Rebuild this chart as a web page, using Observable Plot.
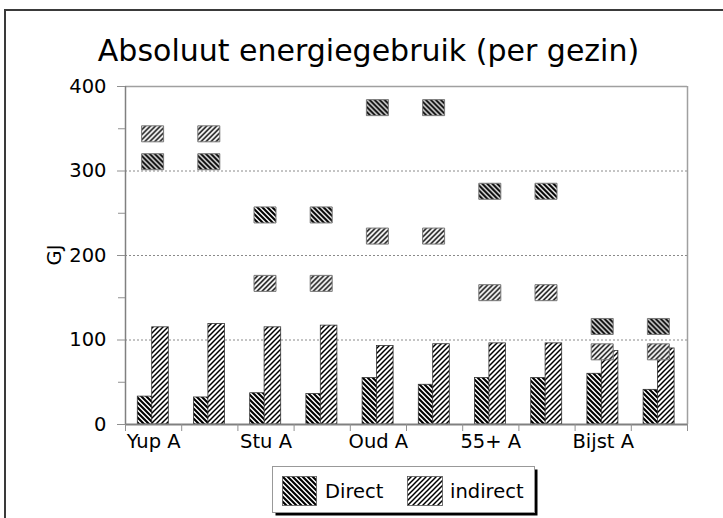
<!DOCTYPE html>
<html><head><meta charset="utf-8">
<script src="https://cdn.jsdelivr.net/npm/d3@7"></script>
<script src="https://cdn.jsdelivr.net/npm/@observablehq/plot@0.6"></script>
<style>
html,body{margin:0;padding:0;background:#fff;}
#wrap{position:relative;width:723px;height:518px;overflow:hidden;font-family:"DejaVu Sans",sans-serif;background:#fff;}
#title{position:absolute;left:0;width:737px;top:36px;text-align:center;font-size:30px;line-height:30px;color:#000;white-space:nowrap;}
#frame{position:absolute;left:4px;top:9px;width:760px;height:560px;border:2px solid #3a3a3a;box-sizing:border-box;pointer-events:none;}
#chart{position:absolute;left:0;top:0;}
#legend{position:absolute;left:272px;top:466px;}
#ylab{position:absolute;left:55px;top:255px;font-size:19.5px;line-height:20px;transform:translate(-50%,-50%) rotate(-90deg);white-space:nowrap;color:#000;}
</style></head><body>
<div id="wrap"><div id="chart"></div><div id="title">Absoluut energiegebruik (per gezin)</div><div id="ylab">GJ</div><div id="legend"></div><div id="frame"></div></div>
<script>
// ---- data ----
const categories = ["Yup A","Yup B","Stu A","Stu B","Oud A","Oud B","55+ A","55+ B","Bijst A","Bijst B"];
const xTickLabels = ["Yup A","Stu A","Oud A","55+ A","Bijst A"];
const directBar = [33, 32, 37, 36, 55, 47, 55, 55, 60, 41];
const indirectBar = [115, 119, 115, 117, 93, 95, 96, 96, 87, 90];
const directMarker = [311, 311, 248, 248, 375, 375, 276, 276, 116, 116];
const indirectMarker = [344, 344, 167, 167, 223, 223, 156, 156, 86, 86];
const yTicks = [0, 100, 200, 300, 400];
const yMinorTicks = [50, 150, 250, 350];
const seriesNames = ["Direct", "indirect"];

const rows = categories.map((c, i) => ({
  cat: c, i,
  direct: directBar[i], indirect: indirectBar[i],
  dMark: directMarker[i], iMark: indirectMarker[i]
}));

function addPatterns(defs, prefix) {
  const s = 5;
  const pd = defs.append("pattern").attr("id", prefix + "D")
    .attr("patternUnits", "userSpaceOnUse").attr("width", s).attr("height", s);
  pd.append("rect").attr("width", s).attr("height", s).attr("fill", "#fff");
  pd.append("path").attr("d", `M-1,-1L${s+1},${s+1}M-1,${s-1}L1,${s+1}M${s-1},-1L${s+1},1`)
    .attr("stroke", "#000").attr("stroke-width", 2.1).attr("fill", "none");
  const pi = defs.append("pattern").attr("id", prefix + "I")
    .attr("patternUnits", "userSpaceOnUse").attr("width", s).attr("height", s);
  pi.append("rect").attr("width", s).attr("height", s).attr("fill", "#fff");
  pi.append("path").attr("d", `M-1,${s+1}L${s+1},-1M-1,1L1,-1M${s-1},${s+1}L${s+1},${s-1}`)
    .attr("stroke", "#000").attr("stroke-width", 1.5).attr("fill", "none");
}

const defsMark = () => {
  const g = d3.create("svg:g");
  addPatterns(g.append("defs"), "pat");
  return g.node();
};

const boxSymbol = { draw(ctx) { ctx.rect(-11, -8, 22, 16); } };

const n = categories.length;
const labelPos = xTickLabels.map(l => categories.indexOf(l) + 0.5);

const chart = Plot.plot({
  width: 723,
  height: 518,
  marginTop: 86,
  marginBottom: 94,
  marginLeft: 125,
  marginRight: 36,
  style: { fontFamily: "DejaVu Sans, sans-serif", fontSize: "19.5px", background: "transparent", color: "#000" },
  x: { domain: [0, n], axis: null },
  y: { domain: [0, 400], axis: null },
  marks: [
    defsMark,
    Plot.ruleY([100, 200, 300], { stroke: "#8a8a8a", strokeDasharray: "2,2", strokeWidth: 1 }),
    Plot.ruleY([400], { stroke: "#a0a0a0", strokeWidth: 1.5 }),
    Plot.ruleX([n], { stroke: "#a0a0a0", strokeWidth: 1.5 }),
    Plot.rectY(rows, { x1: d => d.i, x2: d => d.i + 1, y: "direct", fill: "url(#patD)", stroke: "#333", strokeWidth: 0.8, insetLeft: 12.3, insetRight: 28.5 }),
    Plot.rectY(rows, { x1: d => d.i, x2: d => d.i + 1, y: "indirect", fill: "url(#patI)", stroke: "#333", strokeWidth: 0.8, insetLeft: 26.7, insetRight: 12.9 }),
    Plot.dot(rows, { x: d => d.i + 0.5, y: "dMark", symbol: boxSymbol, fill: "url(#patD)", stroke: "#777", strokeWidth: 1, dx: -1 }),
    Plot.dot(rows, { x: d => d.i + 0.5, y: "iMark", symbol: boxSymbol, fill: "url(#patI)", stroke: "#777", strokeWidth: 1, dx: -1 }),
    Plot.ruleX([0], { stroke: "#808080", strokeWidth: 1.5 }),
    Plot.ruleY([0], { stroke: "#808080", strokeWidth: 2 }),
    Plot.axisY({ ticks: yTicks, tickSize: 8, tickPadding: 11, stroke: "#909090", label: null, fontSize: 19.5 }),
    Plot.axisY({ ticks: yMinorTicks, tickSize: 7, tickFormat: () => "", stroke: "#909090", label: null }),
    Plot.axisX({ ticks: d3.range(0, n + 1), tickSize: 7, tickFormat: () => "", stroke: "#909090", label: null }),
    Plot.axisX({ ticks: labelPos, tickSize: 0, tickPadding: 10, tickFormat: v => categories[Math.floor(v)], label: null, fontSize: 19.5 })
  ]
});
document.getElementById("chart").appendChild(chart);

// ---- legend ----
const lg = d3.select("#legend").append("svg").attr("width", 270).attr("height", 54);
addPatterns(lg.append("defs"), "lg");
lg.append("rect").attr("x", 3.5).attr("y", 3.5).attr("width", 262).attr("height", 46).attr("fill", "#000");
lg.append("rect").attr("x", 0.5).attr("y", 0.5).attr("width", 262).attr("height", 46).attr("fill", "#fff").attr("stroke", "#999");
const items = [
  { name: seriesNames[0], fill: "url(#lgD)", sx: 10, tx: 53, sw: 34 },
  { name: seriesNames[1], fill: "url(#lgI)", sx: 135, tx: 178, sw: 35 }
];
items.forEach(it => {
  lg.append("rect").attr("x", it.sx + 0.5).attr("y", 10.5).attr("width", it.sw).attr("height", 29)
    .attr("fill", it.fill).attr("stroke", "#555").attr("stroke-width", 0.8);
  lg.append("text").attr("x", it.tx).attr("y", 31.5).attr("font-size", "19.5px")
    .attr("font-family", "DejaVu Sans, sans-serif").attr("fill", "#000").text(it.name);
});
</script>
</body></html>
